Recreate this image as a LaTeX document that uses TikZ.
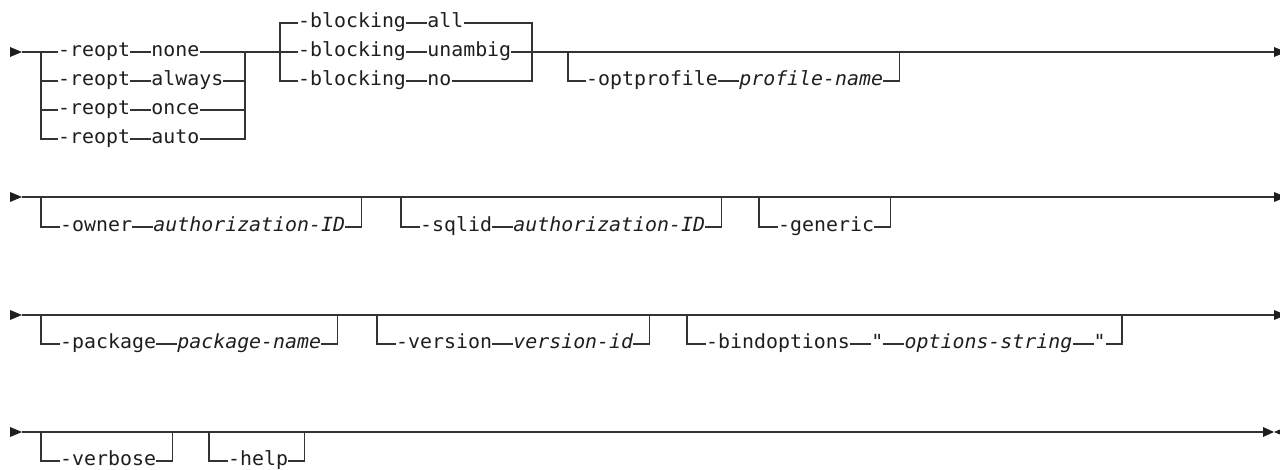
\documentclass[tikz,border=0pt]{standalone}
\usepackage{fontspec}
\newfontfamily\kwfont[FakeStretch=1.02]{DejaVu Sans Mono}
\usetikzlibrary{positioning}
\definecolor{linec}{HTML}{333333}
\definecolor{txtc}{HTML}{1E1E1E}
\tikzset{
  kw/.style={font={\kwfont\fontsize{19.5}{21}\selectfont}, inner sep=0pt, text height=13pt, text depth=4pt, anchor=west, text=txtc},
  var/.style={kw, font={\kwfont\itshape\fontsize{19.5}{21}\selectfont}},
  rr/.style={draw=linec, line width=1.3pt},
  tip/.style={fill=txtc},
  dsh/.style={right=21pt of #1},
}
\begin{document}
\begin{tikzpicture}[x=1pt,y=-1pt]
\useasboundingbox (0,0) rectangle (1280,470);
% ---------------- Row 1 ----------------
\fill[tip] (10,47) -- (22,52) -- (10,57) -- cycle;
\coordinate (s1) at (22,52);
\foreach \y/\v [count=\i] in {52/none,81/always,110/once,139/auto}{
  \node[kw] (ro\i) at (58,\y) {-reopt};
  \node[kw,dsh=ro\i] (rv\i) {\v};
  \draw[rr] (ro\i.east) -- (rv\i.west);
}
\coordinate (g1l) at (41,52);
\coordinate (g1r) at (245,52);
\draw[rr] (s1) -- (ro1.west) (rv1.east) -- (g1r);
\draw[rr] (g1l |- ro2) -- (ro2.west) (rv2.east) -- (g1r |- rv2);
\draw[rr] (g1l |- ro3) -- (ro3.west) (rv3.east) -- (g1r |- rv3);
\draw[rr] (g1l) |- (ro4.west) (rv4.east) -| (g1r);
\foreach \y/\v [count=\i] in {23/all,52/unambig,81/no}{
  \node[kw] (bo\i) at (298,\y) {-blocking};
  \node[kw,dsh=bo\i] (bv\i) {\v};
  \draw[rr] (bo\i.east) -- (bv\i.west);
}
\coordinate (g2l) at (280,52);
\coordinate (g2r) at (532,52);
\draw[rr] (g1r) -- (bo2.west);
\draw[rr] (g2l) |- (bo1.west) (bv1.east) -| (g2r);
\draw[rr] (g2l) |- (bo3.west) (bv3.east) -| (g2r);
\coordinate (e1) at (1274,52);
\draw[rr] (bv2.east) -- (e1);
\fill[tip] (1274,47) -- (1286,52) -- (1274,57) -- cycle;
\node[kw] (op) at (586,81) {-optprofile};
\node[var,dsh=op] (opn) {profile-name};
\draw[rr] (568,52) |- (op.west) (op.east) -- (opn.west) (opn.east) -- ++(16,0) -- ++(0,-29);
% ---------------- Row 2 ----------------
\fill[tip] (10,192) -- (22,197) -- (10,202) -- cycle;
\coordinate (s2) at (22,197);
\coordinate (e2) at (1274,197);
\draw[rr] (s2) -- (e2);
\fill[tip] (1274,192) -- (1286,197) -- (1274,202) -- cycle;
\node[kw] (ow) at (60,227) {-owner};
\node[var,dsh=ow] (owv) {authorization-ID};
\draw[rr] (41,197) |- (ow.west) (ow.east) -- (owv.west) (owv.east) -- ++(16,0) -- ++(0,-30);
\node[kw] (sq) at (420,227) {-sqlid};
\node[var,dsh=sq] (sqv) {authorization-ID};
\draw[rr] (401,197) |- (sq.west) (sq.east) -- (sqv.west) (sqv.east) -- ++(16,0) -- ++(0,-30);
\node[kw] (ge) at (778,227) {-generic};
\draw[rr] (759,197) |- (ge.west) (ge.east) -- ++(16,0) -- ++(0,-30);
% ---------------- Row 3 ----------------
\fill[tip] (10,310) -- (22,315) -- (10,320) -- cycle;
\coordinate (s3) at (22,315);
\coordinate (e3) at (1274,315);
\draw[rr] (s3) -- (e3);
\fill[tip] (1274,310) -- (1286,315) -- (1274,320) -- cycle;
\node[kw] (pk) at (60,344) {-package};
\node[var,dsh=pk] (pkv) {package-name};
\draw[rr] (41,315) |- (pk.west) (pk.east) -- (pkv.west) (pkv.east) -- ++(16,0) -- ++(0,-29);
\node[kw] (ve) at (396,344) {-version};
\node[var,dsh=ve] (vev) {version-id};
\draw[rr] (377,315) |- (ve.west) (ve.east) -- (vev.west) (vev.east) -- ++(16,0) -- ++(0,-29);
\node[kw] (bi) at (706,344) {-bindoptions};
\node[var,dsh=bi] (q1) {"};
\node[var,dsh=q1] (bis) {options-string};
\node[var,dsh=bis] (q2) {"};
\draw[rr] (687,315) |- (bi.west) (bi.east) -- (q1.west) (q1.east) -- (bis.west) (bis.east) -- (q2.west) (q2.east) -- ++(16,0) -- ++(0,-29);
% ---------------- Row 4 ----------------
\fill[tip] (10,427) -- (22,432) -- (10,437) -- cycle;
\coordinate (s4) at (22,432);
\coordinate (e4) at (1263,432);
\draw[rr] (s4) -- (e4);
\fill[tip] (1263,427) -- (1274,432) -- (1263,437) -- cycle;
\fill[tip] (1286,427) -- (1274,432) -- (1286,437) -- cycle;
\node[kw] (vb) at (60,461) {-verbose};
\draw[rr] (41,432) |- (vb.west) (vb.east) -- ++(16,0) -- ++(0,-29);
\node[kw] (hp) at (228,461) {-help};
\draw[rr] (209,432) |- (hp.west) (hp.east) -- ++(16,0) -- ++(0,-29);
\end{tikzpicture}
\end{document}
